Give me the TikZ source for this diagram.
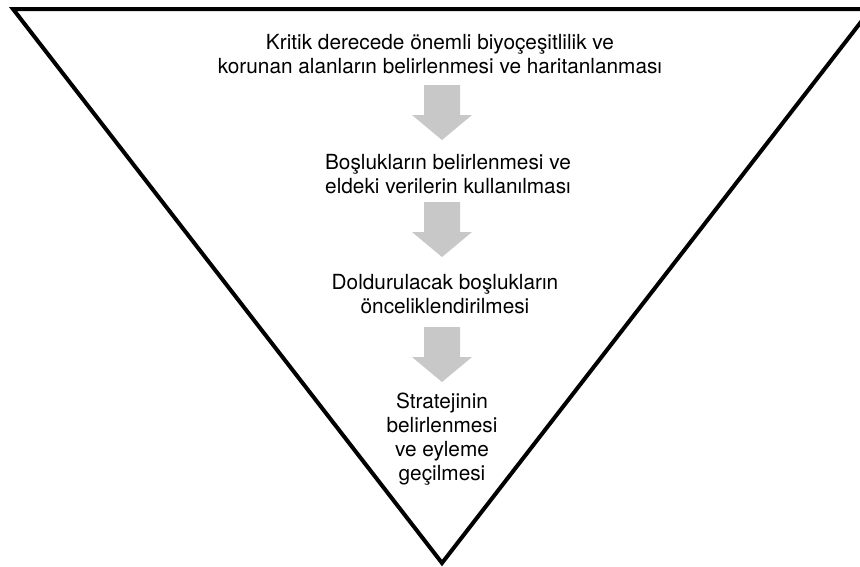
\documentclass[tikz,border=0pt]{standalone}
\usepackage{fontspec}
\setmainfont{TeX Gyre Heros}

\definecolor{arrowgray}{RGB}{200,200,200}

\begin{document}
\begin{tikzpicture}[x=1pt,y=-1pt]
	  \tikzstyle{step text}=[align=center,inner sep=0pt,
				  font=\fontsize{20.8}{24}\selectfont]
	  \tikzstyle{down arrow}=[fill=arrowgray,draw=none]

		\useasboundingbox (0,0) rectangle (860,566);
		\begin{scope}
		\clip (0,0) rectangle (860,566);
		\draw[line width=4pt,line join=miter] (13,9) -- (871,9) -- (442,563) -- cycle;
		\end{scope}

		\node[step text] (s1) at (440,54) {Kritik derecede önemli biyoçeşitlilik ve\\korunan alanların belirlenmesi ve haritanlanması};
		\node[step text] (s2) at (448,174) {Boşlukların belirlenmesi ve\\eldeki verilerin kullanılması};
		\node[step text] (s3) at (445,294) {Doldurulacak boşlukların\\önceliklendirilmesi};
		\node[step text] (s4) at (442,439) {Stratejinin\\belirlenmesi\\ve eyleme\\geçilmesi};

		% block arrows between the steps
		\foreach \top in {85,202,327}
		  \fill[down arrow] (424,\top) -- (460,\top) -- (460,\top+30) -- (472,\top+30)
		    -- (442,\top+55) -- (412,\top+30) -- (424,\top+30) -- cycle;

	\end{tikzpicture}
\end{document}
